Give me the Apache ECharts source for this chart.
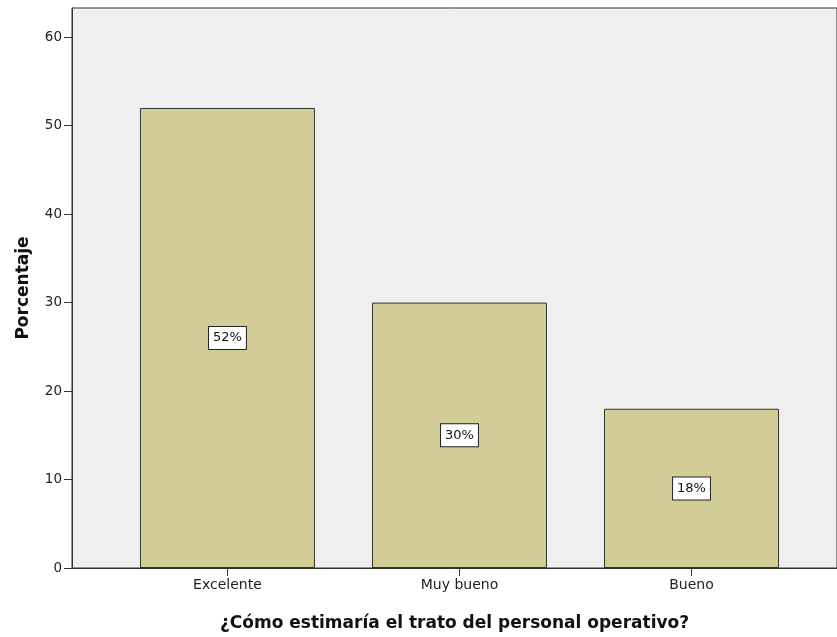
<!DOCTYPE html>
<html>
<head>
<meta charset="utf-8">
<script src="https://cdn.jsdelivr.net/npm/echarts@6/dist/echarts.min.js"></script>
<style>html,body{margin:0;padding:0;background:#fff}#c{width:837px;height:637px}</style>
</head>
<body>
<div id="c"></div>
<script>
const categories = ["Excelente", "Muy bueno", "Bueno"];
const values = [52, 30, 18];
const yTicks = [0, 10, 20, 30, 40, 50, 60];
const catIdx = categories.map((c, i) => i);

const FONT = 'DejaVu Sans, Verdana, sans-serif';
const chart = echarts.init(document.getElementById('c'), null, {renderer: 'canvas'});
chart.setOption({
  animation: false,
  textStyle: {fontFamily: FONT},
  grid: {left: 72, right: -2, top: 8, bottom: 67, show: true, backgroundColor: '#efefef', borderColor: '#333', borderWidth: 1},
  xAxis: {
    type: 'value', min: -0.67, max: 2.627,
    splitLine: {show: false},
    axisLine: {show: true, onZero: false, lineStyle: {color: '#333', width: 1}},
    axisTick: {show: true, length: 8, customValues: catIdx, lineStyle: {color: '#333'}},
    axisLabel: {customValues: catIdx, formatter: v => categories[Math.round(v)] || '', color: '#222', fontSize: 14, margin: 10, fontFamily: FONT},
    name: '¿Cómo estimaría el trato del personal operativo?',
    nameLocation: 'middle', nameGap: 47,
    nameTextStyle: {fontWeight: 'bold', fontSize: 17, color: '#111', fontFamily: FONT}
  },
  yAxis: {
    type: 'value', min: 0, max: 63.3,
    splitLine: {show: false},
    axisLine: {show: true, onZero: false, lineStyle: {color: '#333', width: 1}},
    axisTick: {show: true, length: 8, customValues: yTicks, lineStyle: {color: '#333'}},
    axisLabel: {customValues: yTicks, color: '#222', fontSize: 13.5, margin: 10, fontFamily: FONT},
    name: 'Porcentaje', nameLocation: 'middle', nameGap: 40, nameRotate: 90,
    nameTextStyle: {fontWeight: 'bold', fontSize: 17, color: '#111', fontFamily: FONT}
  },
  series: [{
    type: 'bar',
    barWidth: 175,
    data: values.map((v, i) => [i, v]),
    itemStyle: {color: '#d2cc96', borderColor: '#333', borderWidth: 1},
    label: {
      show: true, position: 'inside',
      formatter: p => p.value[1] + '%',
      color: '#111', fontSize: 13, fontFamily: FONT,
      backgroundColor: '#fff', borderColor: '#222', borderWidth: 1,
      padding: [5, 4, 4, 4]
    }
  }]
});
</script>
</body>
</html>
